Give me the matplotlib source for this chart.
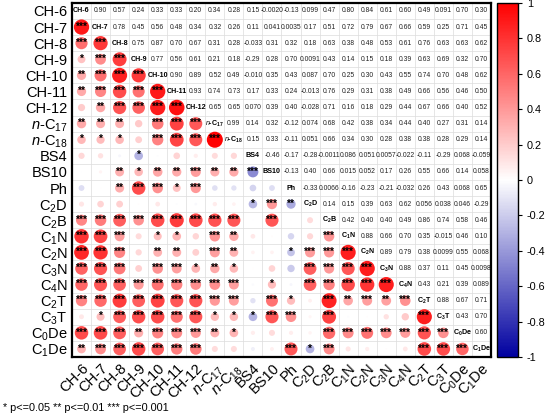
import numpy as np
import matplotlib
matplotlib.use('Agg')
import matplotlib.pyplot as plt
from matplotlib.colors import LinearSegmentedColormap, Normalize
from matplotlib.cm import ScalarMappable

plt.rcParams['font.family'] = ['Liberation Sans', 'DejaVu Sans']
plt.rcParams['mathtext.fontset'] = 'custom'
plt.rcParams['mathtext.rm'] = 'Liberation Sans'
plt.rcParams['mathtext.it'] = 'Liberation Sans:italic'
plt.rcParams['mathtext.bf'] = 'Liberation Sans:bold'

labels = ['CH-6', 'CH-7', 'CH-8', 'CH-9', 'CH-10', 'CH-11', 'CH-12',
          r'$\it{n}$-C$_{17}$', r'$\it{n}$-C$_{18}$', 'BS4', 'BS10', 'Ph',
          'C$_2$D', 'C$_2$B', 'C$_1$N', 'C$_2$N', 'C$_3$N', 'C$_4$N',
          'C$_2$T', 'C$_3$T', 'C$_0$De', 'C$_1$De']
diag_labels = ['CH-6', 'CH-7', 'CH-8', 'CH-9', 'CH-10', 'CH-11', 'CH-12',
               r'$\it{n}$-C$_{\bf 17}$', r'$\it{n}$-C$_{\bf 18}$', 'BS4', 'BS10', 'Ph',
               r'C$_{\bf 2}$D', r'C$_{\bf 2}$B', r'C$_{\bf 1}$N', r'C$_{\bf 2}$N',
               r'C$_{\bf 3}$N', r'C$_{\bf 4}$N', r'C$_{\bf 2}$T', r'C$_{\bf 3}$T',
               r'C$_{\bf 0}$De', r'C$_{\bf 1}$De']

# upper-triangle correlation values, row by row (columns to the right of the diagonal)
r_CH6 = [0.90, 0.57, 0.24, 0.33, 0.33, 0.20, 0.34, 0.28, 0.15, -0.0020, -0.13, 0.099,
         0.47, 0.80, 0.84, 0.61, 0.60, 0.49, 0.091, 0.70, 0.30]
r_CH7 = [0.78, 0.45, 0.56, 0.48, 0.34, 0.32, 0.26, 0.11, 0.041, 0.0035, 0.17, 0.51,
         0.72, 0.79, 0.67, 0.66, 0.59, 0.25, 0.71, 0.45]
r_CH8 = [0.75, 0.87, 0.70, 0.67, 0.31, 0.28, -0.033, 0.31, 0.32, 0.18, 0.63, 0.38,
         0.48, 0.53, 0.61, 0.76, 0.63, 0.63, 0.62]
r_CH9 = [0.77, 0.56, 0.61, 0.21, 0.18, -0.29, 0.28, 0.70, 0.0091, 0.43, 0.14, 0.15,
         0.18, 0.39, 0.63, 0.69, 0.32, 0.70]
r_CH10 = [0.90, 0.89, 0.52, 0.49, -0.010, 0.35, 0.43, 0.087, 0.70, 0.25, 0.30, 0.43,
          0.55, 0.74, 0.70, 0.48, 0.62]
r_CH11 = [0.93, 0.74, 0.73, 0.17, 0.33, 0.24, -0.013, 0.76, 0.29, 0.31, 0.38, 0.49,
          0.66, 0.56, 0.46, 0.50]
r_CH12 = [0.65, 0.65, 0.070, 0.39, 0.40, -0.028, 0.71, 0.16, 0.18, 0.29, 0.44, 0.67,
          0.66, 0.40, 0.52]
r_nC17 = [0.99, 0.14, 0.32, -0.12, 0.074, 0.68, 0.42, 0.38, 0.34, 0.44, 0.40, 0.27,
          0.31, 0.14]
r_nC18 = [0.15, 0.33, -0.11, 0.051, 0.66, 0.34, 0.30, 0.28, 0.38, 0.38, 0.28, 0.29, 0.14]
r_BS4 = [-0.46, -0.17, -0.28, -0.0011, 0.086, 0.051, 0.0057, -0.022, -0.11, -0.29,
         0.068, -0.059]
r_BS10 = [-0.13, 0.40, 0.66, 0.015, 0.052, 0.17, 0.26, 0.55, 0.66, 0.14, 0.058]
r_Ph = [-0.33, 0.0066, -0.16, -0.23, -0.21, -0.032, 0.26, 0.43, 0.068, 0.65]
r_C2D = [0.14, 0.15, 0.39, 0.63, 0.62, 0.056, 0.038, 0.046, -0.29]
r_C2B = [0.42, 0.40, 0.40, 0.49, 0.86, 0.74, 0.58, 0.46]
r_C1N = [0.88, 0.66, 0.70, 0.35, -0.015, 0.46, 0.10]
r_C2N = [0.89, 0.79, 0.38, 0.0099, 0.55, 0.068]
r_C3N = [0.88, 0.37, 0.11, 0.45, 0.0098]
r_C4N = [0.43, 0.21, 0.39, 0.089]
r_C2T = [0.88, 0.67, 0.71]
r_C3T = [0.43, 0.70]
r_C0De = [0.60]

upper_rows = [r_CH6, r_CH7, r_CH8, r_CH9, r_CH10, r_CH11, r_CH12, r_nC17, r_nC18,
              r_BS4, r_BS10, r_Ph, r_C2D, r_C2B, r_C1N, r_C2N, r_C3N, r_C4N,
              r_C2T, r_C3T, r_C0De]

n = len(labels)
R = np.eye(n)
for i, row in enumerate(upper_rows):
    for k, v in enumerate(row):
        j = i + 1 + k
        R[i, j] = v
        R[j, i] = v


def stars(v):
    a = abs(v)
    if a >= 0.38:
        return '***'
    if a >= 0.30:
        return '**'
    if a >= 0.225:
        return '*'
    return ''


cmap = LinearSegmentedColormap.from_list('rwb', [(0.0, '#0000A0'), (0.5, '#FFFFFF'), (1.0, '#FF0000')])
norm = Normalize(-1, 1)

fig = plt.figure(figsize=(5.5, 4.19), dpi=100)
ax = fig.add_axes([0.1309, 0.148, 0.7618, 0.845])
ax.set_xlim(-0.5, n - 0.5)
ax.set_ylim(n - 0.5, -0.5)

for k in range(n + 1):
    ax.axhline(k - 0.5, color='#DCDCDC', lw=0.5, zorder=0)
    ax.axvline(k - 0.5, color='#DCDCDC', lw=0.5, zorder=0)

xs, ys, vals = [], [], []
for i in range(n):
    for j in range(n):
        if i > j:
            xs.append(j)
            ys.append(i)
            vals.append(R[i, j])
        elif i < j:
            ax.text(j, i, f"{R[i, j]:#.2g}", ha='center', va='center', fontsize=4.9, color='#222222')
        else:
            ax.text(j, i, diag_labels[i], ha='center', va='center', fontsize=5.1,
                    fontweight='bold', color='black')
vals = np.array(vals)
ax.scatter(xs, ys, s=135 * np.abs(vals), c=vals, cmap=cmap, norm=norm, linewidths=0, zorder=2)
for x, y, v in zip(xs, ys, vals):
    s = stars(v)
    if s:
        ax.text(x, y - 0.03, s, ha='center', va='center', fontsize=7.2, fontweight='bold',
                color='black', zorder=3)

ax.set_xticks(range(n))
ax.set_yticks(range(n))
ax.set_xticklabels(labels, rotation=45, ha='right', rotation_mode='anchor', fontsize=10.5)
ax.set_yticklabels(labels, fontsize=10.5)
ax.tick_params(length=0, pad=3)
for sp in ax.spines.values():
    sp.set_linewidth(1.6)

cax = fig.add_axes([0.9036, 0.148, 0.038, 0.845])
cb = fig.colorbar(ScalarMappable(norm=norm, cmap=cmap), cax=cax)
cb.set_ticks([1, 0.8, 0.6, 0.4, 0.2, 0, -0.2, -0.4, -0.6, -0.8, -1])
cb.set_ticklabels(['1', '0.8', '0.6', '0.4', '0.2', '0', '-0.2', '-0.4', '-0.6', '-0.8', '-1'])
cb.ax.tick_params(labelsize=7.8, length=3, width=0.8)
cb.outline.set_linewidth(1.0)

fig.text(0.006, 0.026, '* p<=0.05 ** p<=0.01 *** p<=0.001', fontsize=7.8, va='center', ha='left')

fig.savefig('out.png', dpi=100)
